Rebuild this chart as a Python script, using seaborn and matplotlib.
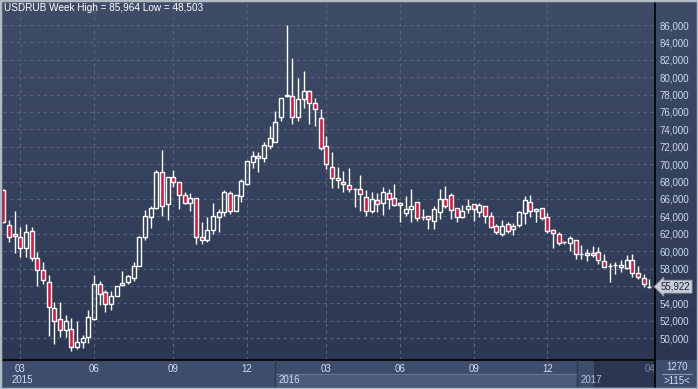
import numpy as np
import pandas as pd
import seaborn as sns
import matplotlib
matplotlib.use("Agg")
from matplotlib import pyplot as plt
from matplotlib.patches import Rectangle
from matplotlib.lines import Line2D
from matplotlib.colors import LinearSegmentedColormap
from matplotlib.transforms import blended_transform_factory

# weekly USDRUB candles
opens = [67.0, 63.0, 61.94, 61.67, 60.34, 62.29, 59.19, 57.85, 56.51, 53.45,
         52.19, 50.97, 51.04, 48.98, 49.55, 50.09, 52.23, 56.24, 55.29, 53.95,
         54.9, 56.1, 56.4, 56.9, 58.35, 61.67, 63.97, 65.0, 69.06, 65.38,
         68.48, 68.0, 66.42, 65.5, 66.07, 61.67, 61.3, 62.44, 63.9, 64.54,
         66.65, 64.66, 66.38, 67.72, 70.29, 70.95, 70.67, 72.13, 72.6, 75.46,
         77.8, 77.88, 75.46, 77.46, 78.41, 77.0, 75.27, 72.1, 69.67, 68.37,
         67.92, 67.6, 67.15, 67.1, 66.19, 64.66, 65.85, 65.5, 66.65, 66.08,
         65.3, 64.35, 64.8, 65.7, 63.9, 64.1, 63.51, 64.54, 66.0, 66.46,
         64.92, 63.89, 64.81, 65.42, 64.54, 65.19, 64.04, 62.9, 61.97, 63.12,
         62.51, 63.01, 64.35, 65.61, 64.62, 64.92, 63.89, 62.43, 61.93, 61.0,
         60.9, 61.28, 59.64, 59.56, 59.83, 59.87, 58.87, 58.3, 58.41, 58.22,
         58.1, 58.98, 57.49, 56.95, 55.92]
highs = [67.2, 63.6, 64.6, 62.75, 63.13, 62.75, 59.88, 58.73, 57.28, 54.14,
         54.14, 52.69, 52.31, 52.0, 50.4, 53.26, 57.28, 56.6, 55.56, 55.37,
         56.05, 57.74, 57.28, 58.73, 61.7, 64.73, 65.2, 69.3, 71.6, 68.5,
         69.3, 68.0, 66.76, 66.65, 66.07, 63.4, 63.97, 65.58, 64.81, 67.03,
         66.96, 66.5, 68.3, 70.4, 71.5, 71.36, 72.6, 74.4, 76.1, 77.6,
         85.964, 82.17, 79.87, 80.7, 78.5, 77.57, 76.3, 73.2, 71.36, 69.7,
         69.2, 69.6, 67.3, 68.8, 67.03, 66.84, 66.7, 67.4, 67.2, 67.7,
         65.6, 66.3, 67.2, 65.7, 64.8, 64.1, 65.19, 67.15, 67.49, 66.72,
         64.92, 65.3, 66.0, 65.42, 65.57, 65.19, 64.54, 63.12, 63.58, 63.31,
         63.2, 64.66, 66.38, 66.46, 65.0, 64.92, 64.35, 62.51, 62.16, 61.2,
         61.78, 61.28, 60.71, 60.25, 60.6, 60.52, 59.68, 58.6, 58.75, 58.98,
         59.52, 59.68, 58.3, 57.34, 56.76]
lows = [63.2, 61.1, 59.8, 59.3, 59.3, 58.92, 56.05, 56.24, 50.2, 49.32,
        50.09, 50.09, 48.503, 48.79, 48.86, 49.4, 52.1, 53.8, 52.96, 53.26,
        54.9, 55.94, 56.24, 56.6, 58.3, 61.3, 62.7, 64.9, 64.05, 63.6,
        67.4, 64.85, 65.38, 64.65, 60.8, 60.8, 61.1, 62.0, 62.25, 64.08,
        64.28, 64.6, 65.7, 67.6, 69.6, 69.14, 70.3, 71.8, 72.6, 75.0,
        77.7, 74.58, 75.0, 76.42, 74.58, 74.4, 71.6, 69.4, 67.23, 67.23,
        66.77, 66.84, 65.1, 64.66, 64.0, 64.4, 64.5, 64.2, 64.9, 65.2,
        63.3, 64.1, 63.3, 63.5, 63.6, 62.55, 62.55, 63.66, 64.92, 63.7,
        63.39, 63.77, 64.35, 63.5, 63.97, 63.2, 62.62, 61.93, 61.74, 62.13,
        61.86, 62.82, 63.12, 63.97, 63.31, 63.58, 62.05, 60.4, 60.71, 60.8,
        60.02, 59.06, 59.06, 58.87, 59.37, 58.49, 58.14, 56.5, 57.34, 57.65,
        57.91, 57.07, 56.8, 55.85, 55.72]
closes = [63.4, 61.6, 61.71, 60.34, 62.17, 59.19, 57.85, 56.7, 53.57, 51.92,
          50.97, 51.92, 48.98, 49.55, 50.0, 52.42, 56.24, 55.1, 53.95, 54.87,
          56.0, 56.35, 57.09, 58.35, 61.67, 64.05, 64.92, 69.06, 65.19, 68.48,
          67.9, 66.42, 65.5, 66.07, 61.67, 61.3, 62.44, 64.05, 64.5, 66.77,
          64.66, 66.46, 68.07, 70.37, 70.94, 70.7, 72.2, 72.97, 74.81, 77.57,
          77.9, 75.39, 77.46, 78.41, 77.0, 76.3, 71.82, 69.98, 68.37, 68.15,
          67.7, 67.1, 67.15, 66.54, 64.66, 65.96, 65.4, 66.77, 65.96, 65.3,
          65.5, 64.8, 65.2, 63.8, 63.9, 63.67, 64.85, 66.0, 65.23, 64.73,
          63.89, 64.62, 65.19, 64.81, 65.3, 64.08, 62.82, 62.24, 62.93, 62.36,
          62.9, 64.46, 65.88, 64.66, 64.85, 63.77, 62.36, 62.05, 60.98, 61.0,
          61.47, 59.64, 59.64, 59.83, 59.56, 58.98, 58.22, 58.3, 58.41, 58.41,
          58.98, 57.45, 56.99, 56.19, 55.92]

month_pos = [3, 16, 30, 43, 57, 70, 83, 96, 115]
month_labels = ['03', '06', '09', '12', '03', '06', '09', '12', '04']
year_pos = [1.5, 48.6, 101.8]
year_labels = ['2015', '2016', '2017']
y_ticks = [50, 52, 54, 56, 58, 60, 62, 64, 66, 68, 70, 72, 74, 76, 78, 80, 82, 84, 86]
last_price = 55.922
title = 'USDRUB Week High = 85,964 Low = 48,503'

W, H = 698, 389
sns.set_theme(style="dark")
plt.rcParams['font.family'] = ['Liberation Sans', 'DejaVu Sans']

def fx(px):
    return px / W

def fy(py):
    return 1 - py / H

def rub(v):
    return f"{v:.3f}".replace('.', ',')

fig = plt.figure(figsize=(W / 100, H / 100), dpi=100)
fig.patch.set_facecolor('#3e4d6b')

# time band decoration (drawn first, under everything)
fig.patches.append(Rectangle((fx(275), fy(387)), fx(577) - fx(275), fy(374) - fy(387),
                             transform=fig.transFigure, fc='#4a5a78', ec='none', zorder=-2))
fig.patches.append(Rectangle((fx(594), fy(387)), fx(655) - fx(594), fy(360) - fy(387),
                             transform=fig.transFigure, fc='#2b3651', ec='none', zorder=-2))

# gradient behind the plot and the price scale
bg = fig.add_axes([0, fy(360), 1, fy(0) - fy(360)])
bg.set_zorder(-1)
cmap = LinearSegmentedColormap.from_list('bg', ['#3f4c68', '#2c3853'])
bg.imshow(np.linspace(0, 1, 256).reshape(-1, 1), aspect='auto', cmap=cmap, extent=[0, 1, 0, 1])
bg.axis('off')

ax = fig.add_axes([fx(3), fy(360), fx(655) - fx(3), fy(3) - fy(360)])
ax.set_zorder(1)
ax.patch.set_alpha(0)

df = pd.DataFrame({'o': opens, 'h': highs, 'l': lows, 'c': closes})
df['x'] = np.arange(len(df))
df['top'] = df[['o', 'c']].max(axis=1)
df['bot'] = df[['o', 'c']].min(axis=1)
up = df['c'] >= df['o']

ax.vlines(df['x'], df['top'], df['h'], color='white', lw=1, zorder=3)
ax.vlines(df['x'], df['l'], df['bot'], color='white', lw=1, zorder=3)
ax.bar(df['x'][up], (df['top'] - df['bot'])[up], bottom=df['bot'][up], width=0.68,
       facecolor='none', edgecolor='white', lw=1, zorder=4)
ax.bar(df['x'][~up], (df['top'] - df['bot'])[~up], bottom=df['bot'][~up], width=0.68,
       facecolor='#e3123d', edgecolor='white', lw=1, zorder=4)

ax.set_xlim(-0.05, 115.0)
ax.set_ylim(47.49, 88.53)

ax.set_yticks(y_ticks)
ax.set_yticklabels(['' if v == 56 else rub(v) for v in y_ticks])
ax.yaxis.tick_right()
ax.set_xticks(month_pos)
ax.set_xticklabels(month_labels)
ax.tick_params(axis='y', length=0, pad=3, labelsize=7, labelcolor='#cad8f0')
ax.tick_params(axis='x', length=0, pad=3, labelsize=7, labelcolor='#d3def3')
lab = ax.get_xticklabels()[-1]
lab.set_ha('right')
lab.set_color('#7d8aa2')
ax.grid(True, color='#56637e', ls=(0, (3, 3)), lw=0.8)
ax.set_axisbelow(True)
for s in ['left', 'top']:
    ax.spines[s].set_visible(False)
for s in ['right', 'bottom']:
    ax.spines[s].set_color('black')
    ax.spines[s].set_linewidth(1.2)

yb = blended_transform_factory(ax.transData, fig.transFigure)
for lbl, xp in zip(year_labels, year_pos):
    ax.text(xp, fy(380), lbl, transform=yb, ha='left', va='center', size=7,
            color='#d3def3' if lbl != '2017' else '#b4bfd2', clip_on=False)

# price marker on the right scale
pt = blended_transform_factory(ax.transAxes, ax.transData)
ax.text(1.0 + 6 / 652, last_price, rub(last_price), transform=pt, ha='left', va='center',
        size=7, color='#1c2233', clip_on=False, zorder=10,
        bbox=dict(boxstyle='larrow,pad=0.15', fc='#c9ced8', ec='#8d95a5', lw=0.6))

fig.lines.append(Line2D([fx(275), fx(577)], [fy(374), fy(374)], transform=fig.transFigure,
                        color='#66768f', lw=0.8))
for xp in [275, 577]:
    fig.lines.append(Line2D([fx(xp), fx(xp)], [fy(360), fy(387)], transform=fig.transFigure,
                            color='#2d3952', lw=1))
fig.lines.append(Line2D([fx(655), fx(655)], [fy(360), fy(389)], transform=fig.transFigure,
                        color='black', lw=1.2))
fig.lines.append(Line2D([fx(662), fx(692)], [fy(374), fy(374)], transform=fig.transFigure,
                        color='#8a97ad', lw=0.8))
fig.text(fx(677), fy(367), '1270', ha='center', va='center', size=7, color='#d3def3')
fig.text(fx(677), fy(381), '>115<', ha='center', va='center', size=7, color='#d3def3')

fig.text(fx(4), fy(8), title, ha='left', va='center', size=7.2, color='white')

fig.patches.append(Rectangle((0, 0), 1, 1, transform=fig.transFigure, fc='none',
                             ec='#b2bac6', lw=2.5, zorder=20))

fig.savefig('out.png', dpi=100, facecolor=fig.get_facecolor())
